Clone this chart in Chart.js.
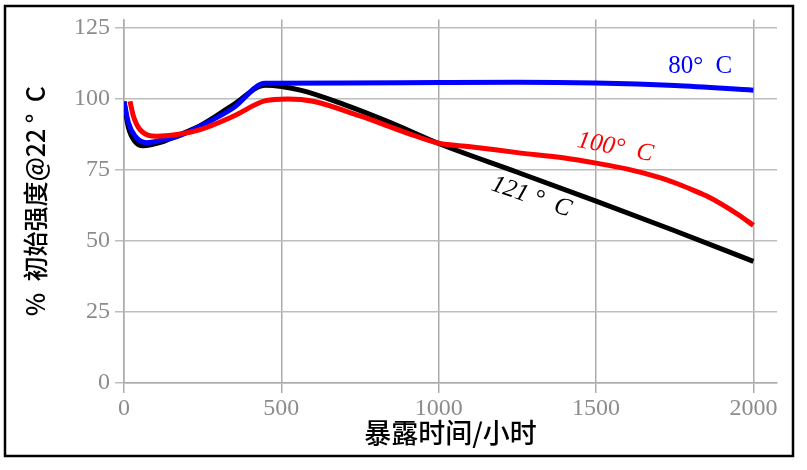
<!DOCTYPE html>
<html>
<head>
<meta charset="utf-8">
<script src="https://cdn.jsdelivr.net/npm/chart.js@4/dist/chart.umd.min.js"></script>
<style>
html,body{margin:0;padding:0;background:#fff;}
canvas{display:block;}
</style>
</head>
<body>
<canvas id="c" width="807" height="470"></canvas>
<script>
// ---- data ----
const xTitle = '暴露时间/小时';
const yTitle = '%  初始强度@22 °  C';
const xTicks = [0, 500, 1000, 1500, 2000];
const yTicks = [0, 25, 50, 75, 100, 125];

const hours80 = [0, 14, 35, 72, 120, 168, 242, 347, 448, 700, 1000, 1250, 1500, 1750, 2000];
const strength80 = [99.1, 91.6, 86.9, 84.6, 85.5, 86.7, 90.4, 96.8, 105.5, 105.6, 105.8, 105.9, 105.6, 104.7, 103.1];

const hours100 = [19, 30, 51, 104, 168, 242, 347, 450, 520, 600, 750, 900, 1000, 1100, 1250, 1400, 1500, 1600, 1700, 1750, 1800, 1850, 1900, 1950, 2000];
const strength100 = [99.2, 93.9, 89.2, 86.9, 87.5, 89.2, 93.9, 99.4, 100, 99.2, 94, 88, 84.4, 83.2, 81.1, 79.2, 77.4, 75.3, 72.4, 70.5, 68.3, 65.9, 62.9, 59.4, 55.5];

const hours121 = [0, 14, 35, 60, 110, 168, 242, 347, 450, 560, 700, 850, 1000, 1250, 1500, 1750, 2000];
const strength121 = [99, 90, 85, 83.5, 84.5, 87, 90.6, 97.9, 104.8, 103.1, 98, 91.5, 84.3, 74.2, 64, 53.6, 42.8];

const seriesLabels = ['80°  C', '100°  C', '121 °  C'];
// label anchors in data space (hours, %) and rotation in degrees
const labelHours = [1831, 1561, 1294];
const labelValues = [111.4, 82.9, 65.5];
const labelAngles = [0, 11, 19];

function pts(xs, ys){ return xs.map((x,i)=>({x:x, y:ys[i]})); }

const colors = ['#0000ff', '#ff0000', '#000000'];

const framePlugin = {
  id: 'frame',
  afterDraw(chart){
    const ctx = chart.ctx;
    ctx.save();
    ctx.strokeStyle = '#000';
    ctx.lineWidth = 2.5;
    ctx.strokeRect(5, 6, 788, 450);
    ctx.restore();
  }
};

const labelPlugin = {
  id: 'curveLabels',
  afterDatasetsDraw(chart){
    const ctx = chart.ctx;
    const xs = chart.scales.x, ys = chart.scales.y;
    ctx.save();
    seriesLabels.forEach((t,i)=>{
      const px = xs.getPixelForValue(labelHours[i]);
      const py = ys.getPixelForValue(labelValues[i]);
      ctx.save();
      ctx.translate(px, py);
      ctx.rotate(labelAngles[i]*Math.PI/180);
      ctx.fillStyle = colors[i];
      ctx.font = (i===0 ? '' : 'italic ') + '25px "Liberation Serif", "DejaVu Serif", serif';
      ctx.textAlign = 'center';
      ctx.textBaseline = 'middle';
      ctx.fillText(t, 0, 0);
      ctx.restore();
    });
    ctx.restore();
  }
};

const tickFont = {family: '"Liberation Serif", "DejaVu Serif", serif', size: 24};

new Chart(document.getElementById('c'), {
  type: 'line',
  data: {
    datasets: [
      {label: seriesLabels[1], data: pts(hours100, strength100), borderColor: colors[1], order: 1},
      {label: seriesLabels[0], data: pts(hours80, strength80), borderColor: colors[0], order: 2},
      {label: seriesLabels[2], data: pts(hours121, strength121), borderColor: colors[2], order: 3}
    ].map(d=>Object.assign(d, {borderWidth: 5, pointRadius: 0, fill: false, cubicInterpolationMode: 'monotone', borderCapStyle: 'butt'}))
  },
  options: {
    responsive: false,
    animation: false,
    devicePixelRatio: 1,
    layout: {padding: {left: 0, right: 30, top: 15, bottom: 0}},
    plugins: {legend: {display: false}, tooltip: {enabled: false}},
    scales: {
      x: {
        type: 'linear',
        min: 0, max: 2075,
        afterBuildTicks(s){ s.ticks = xTicks.map(v=>({value:v})); },
        afterFit(s){ s.height = 87; },
        ticks: {color: '#8c8c8c', font: tickFont, padding: 1, maxRotation: 0, autoSkip: false, callback: v => String(v)},
        grid: {color: '#ababab', lineWidth: 1.5, tickLength: 10, drawTicks: true},
        border: {color: '#ababab', width: 1.5},
        title: {display: true, text: xTitle, color: '#000', font: {family: '"Noto Sans CJK SC", sans-serif', size: 27, weight: '500'}, padding: {top: 0, bottom: 21}}
      },
      y: {
        min: 0, max: 128,
        afterBuildTicks(s){ s.ticks = yTicks.map(v=>({value:v})); },
        afterFit(s){ s.width = 124; },
        ticks: {color: '#8c8c8c', font: tickFont, padding: 5, callback: v => String(v)},
        grid: {color: '#bdbdbd', lineWidth: 1.5, tickLength: 9},
        border: {color: '#ababab', width: 1.5},
        title: {display: true, text: yTitle, color: '#000', font: {family: '"Noto Sans CJK SC", sans-serif', size: 25, weight: '500'}, padding: {top: 20, bottom: 0}}
      }
    }
  },
  plugins: [framePlugin, labelPlugin]
});
</script>
</body>
</html>
